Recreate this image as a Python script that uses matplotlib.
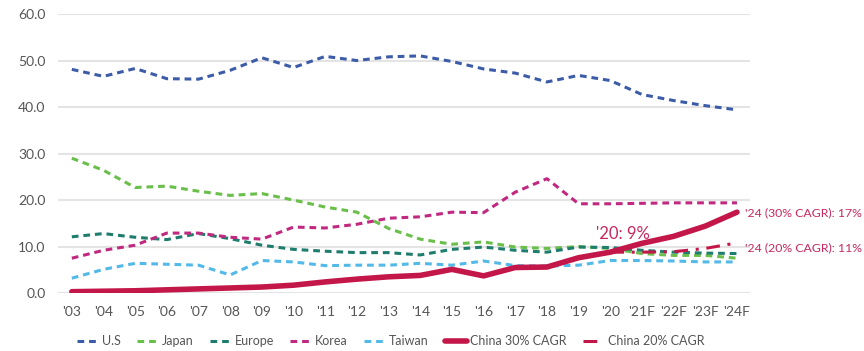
from matplotlib import pyplot as plt
import numpy as np

plt.rcParams['font.family'] = ['Lato', 'DejaVu Sans']

years = ["'03", "'04", "'05", "'06", "'07", "'08", "'09", "'10", "'11", "'12", "'13",
         "'14", "'15", "'16", "'17", "'18", "'19", "'20", "'21F", "'22F", "'23F", "'24F"]

us = [48.1, 46.6, 48.3, 46.1, 46.0, 47.9, 50.6, 48.5, 50.9, 50.0, 50.8,
      51.0, 49.8, 48.2, 47.3, 45.4, 46.8, 45.7, 42.7, 41.4, 40.3, 39.4]
japan = [29.0, 26.4, 22.7, 23.0, 21.9, 21.0, 21.4, 20.0, 18.5, 17.4, 13.9,
         11.6, 10.5, 11.0, 9.9, 9.6, 10.0, 9.6, 8.5, 8.1, 8.1, 7.5]
europe = [12.1, 12.8, 12.0, 11.5, 12.8, 11.7, 10.3, 9.4, 9.0, 8.7, 8.7,
          8.2, 9.4, 9.9, 9.2, 8.8, 9.9, 9.8, 9.2, 8.8, 8.6, 8.5]
korea = [7.5, 9.2, 10.3, 12.9, 12.9, 12.0, 11.6, 14.2, 14.0, 14.8, 16.1,
         16.4, 17.4, 17.3, 21.7, 24.6, 19.2, 19.2, 19.3, 19.4, 19.4, 19.4]
taiwan = [3.2, 5.1, 6.4, 6.2, 6.0, 3.9, 7.0, 6.7, 5.9, 6.0, 6.0,
          6.4, 6.0, 6.9, 5.9, 5.8, 6.0, 7.0, 7.0, 6.9, 6.7, 6.7]
china30 = [0.3, 0.4, 0.5, 0.7, 0.9, 1.1, 1.3, 1.7, 2.4, 3.0, 3.5,
           3.8, 5.1, 3.7, 5.5, 5.6, 7.6, 8.8, 10.7, 12.2, 14.4, 17.4]
china20_years = ["'20", "'21F", "'22F", "'23F", "'24F"]
china20 = [8.8, 8.8, 8.9, 9.6, 10.8]

x = np.arange(len(years))
x20 = [years.index(y) for y in china20_years]

fig = plt.figure(figsize=(8.64, 3.51), dpi=100)
ax = fig.add_axes([0.067, 0.165, 0.801, 0.795])

dash = (0, (2.2, 1.6))
ax.plot(x, us, color="#3c5ca8", lw=2.2, ls=dash, label="U.S")
ax.plot(x, japan, color="#6abf4b", lw=2.2, ls=dash, label="Japan")
ax.plot(x, europe, color="#1e7d6c", lw=2.2, ls=dash, label="Europe")
ax.plot(x, korea, color="#c0297f", lw=2.2, ls=dash, label="Korea")
ax.plot(x, taiwan, color="#52b9e8", lw=2.2, ls=dash, label="Taiwan")
ax.plot(x, china30, color="#c3174a", lw=4, solid_capstyle="round", label="China 30% CAGR")
ax.plot(x20, china20, color="#c3174a", lw=2.2, ls=(0, (4.5, 2.5, 1, 2.5)), label="China 20% CAGR")

ax.set_ylim(0, 60)
ax.set_xlim(-0.44, 21.41)
ax.set_yticks(np.arange(0, 61, 10))
ax.set_yticklabels([f"{v:.1f}" for v in np.arange(0, 61, 10)])
ax.set_xticks(x)
ax.set_xticklabels(years)
ax.tick_params(length=0, labelsize=10, colors="#555555", pad=9)
ax.grid(axis="y", color="#e4e4e4", lw=1.5)
ax.set_axisbelow(True)
for s in ax.spines.values():
    s.set_visible(False)

red = "#c8285e"
ax.text(17.4, 12.7, "'20: 9%", color=red, fontsize=12, ha="center", va="center")
ax.text(21.25, 17.3, "'24 (30% CAGR): 17%", color=red, fontsize=8.8, va="center", clip_on=False)
ax.text(21.25, 9.8, "'24 (20% CAGR): 11%", color=red, fontsize=8.8, va="center", clip_on=False)

fig.legend(loc="center", bbox_to_anchor=(0.452, 0.028), ncol=7, frameon=False,
           fontsize=9, labelcolor="#555555", handlelength=1.7, columnspacing=1.3,
           handletextpad=0.3)

fig.savefig("out.png", dpi=100)
